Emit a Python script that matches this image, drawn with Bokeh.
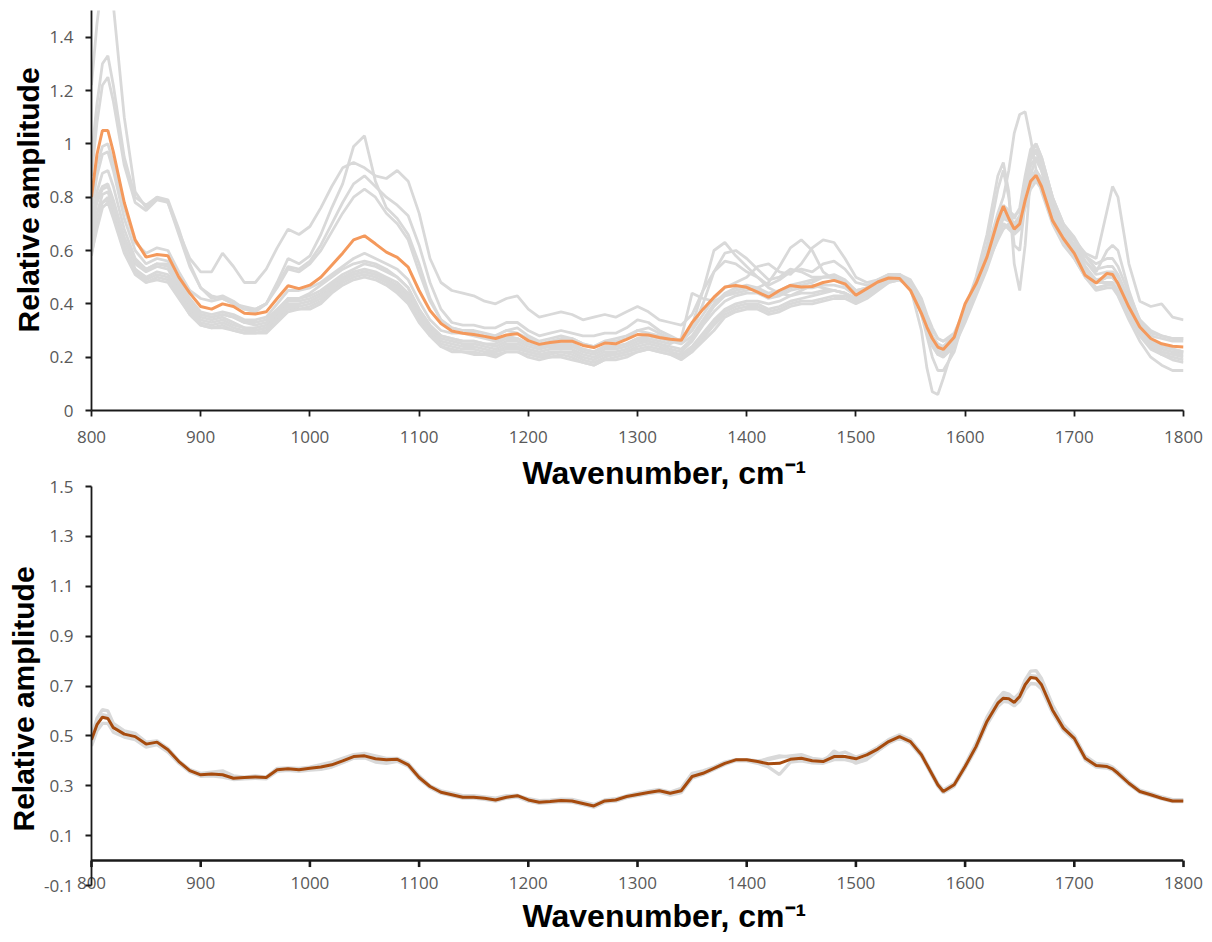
from bokeh.plotting import figure
from bokeh.layouts import column
from bokeh.models import FixedTicker, Title, Span
from bokeh.embed import file_html
from bokeh.resources import INLINE

# ---------------- data ----------------
WAVENUMBER = [
    800, 805, 810, 815, 820, 830, 840, 850, 860, 870, 880, 890,
    900, 910, 920, 930, 940, 950, 960, 970, 980, 990, 1000, 1010, 1020, 1030, 1040, 1050, 1060, 1070, 1080, 1090,
    1100, 1110, 1120, 1130, 1140, 1150, 1160, 1170, 1180, 1190, 1200, 1210, 1220, 1230, 1240, 1250, 1260, 1270, 1280, 1290,
    1300, 1310, 1320, 1330, 1340, 1350, 1360, 1370, 1380, 1390, 1400, 1410, 1420, 1430, 1440, 1450, 1460, 1470, 1480, 1490,
    1500, 1510, 1520, 1530, 1540, 1550, 1560, 1565, 1570, 1575, 1580, 1590,
    1600, 1610, 1620, 1630, 1635, 1640, 1645, 1650, 1655, 1660, 1665, 1670,
    1680, 1690, 1700, 1710, 1720, 1730, 1735, 1740, 1750, 1760, 1770, 1780, 1790, 1800,
]

TOP_MEAN = [
    0.80, 0.96, 1.05, 1.05, 0.97, 0.78, 0.64, 0.575, 0.585, 0.58, 0.50, 0.44,
    0.39, 0.38, 0.40, 0.39, 0.365, 0.362, 0.37, 0.42, 0.468, 0.457, 0.47, 0.50, 0.545, 0.59, 0.64, 0.655, 0.625, 0.594, 0.574, 0.538,
    0.45, 0.375, 0.326, 0.298, 0.29, 0.285, 0.278, 0.27, 0.283, 0.288, 0.262, 0.248, 0.255, 0.26, 0.26, 0.244, 0.236, 0.253, 0.25, 0.267,
    0.285, 0.283, 0.274, 0.267, 0.263, 0.33, 0.38, 0.425, 0.463, 0.469, 0.462, 0.444, 0.425, 0.45, 0.469, 0.463, 0.465, 0.48, 0.488, 0.475,
    0.432, 0.457, 0.482, 0.497, 0.495, 0.45, 0.364, 0.313, 0.27, 0.238, 0.229, 0.275,
    0.40, 0.476, 0.575, 0.713, 0.766, 0.72, 0.68, 0.70, 0.788, 0.86, 0.882, 0.84,
    0.713, 0.645, 0.589, 0.507, 0.478, 0.514, 0.51, 0.476, 0.388, 0.313, 0.27, 0.25, 0.241, 0.238,
]

TOP_SAMPLE_01 = [
    1.22, 1.45, 1.62, 1.66, 1.52, 1.10, 0.82, 0.76, 0.80, 0.78, 0.67, 0.57,
    0.52, 0.52, 0.59, 0.54, 0.48, 0.48, 0.53, 0.61, 0.68, 0.66, 0.69, 0.76, 0.84, 0.91, 0.93, 0.91, 0.88, 0.87, 0.90, 0.86,
    0.74, 0.57, 0.48, 0.45, 0.44, 0.43, 0.41, 0.40, 0.42, 0.43, 0.38, 0.35, 0.36, 0.37, 0.36, 0.34, 0.35, 0.36, 0.35, 0.37,
    0.39, 0.37, 0.34, 0.33, 0.32, 0.36, 0.45, 0.52, 0.56, 0.55, 0.52, 0.50, 0.47, 0.49, 0.52, 0.53, 0.52, 0.55, 0.56, 0.53,
    0.48, 0.47, 0.48, 0.49, 0.49, 0.47, 0.40, 0.35, 0.30, 0.27, 0.26, 0.29,
    0.38, 0.47, 0.55, 0.64, 0.68, 0.70, 0.69, 0.70, 0.76, 0.83, 0.86, 0.83,
    0.74, 0.68, 0.64, 0.59, 0.57, 0.75, 0.84, 0.80, 0.55, 0.41, 0.39, 0.40, 0.35, 0.34,
]
TOP_SAMPLE_02 = [
    0.95, 1.15, 1.30, 1.33, 1.22, 0.95, 0.80, 0.77, 0.80, 0.79, 0.68, 0.55,
    0.46, 0.42, 0.43, 0.41, 0.38, 0.37, 0.40, 0.48, 0.57, 0.55, 0.58, 0.66, 0.76, 0.85, 0.99, 1.03, 0.86, 0.76, 0.72, 0.66,
    0.55, 0.42, 0.34, 0.31, 0.30, 0.30, 0.29, 0.28, 0.30, 0.31, 0.28, 0.26, 0.27, 0.28, 0.27, 0.25, 0.24, 0.26, 0.27, 0.28,
    0.30, 0.31, 0.29, 0.27, 0.26, 0.32, 0.45, 0.60, 0.63, 0.58, 0.54, 0.50, 0.46, 0.44, 0.43, 0.45, 0.47, 0.46, 0.45, 0.44,
    0.42, 0.44, 0.47, 0.49, 0.50, 0.46, 0.30, 0.16, 0.07, 0.06, 0.12, 0.25,
    0.38, 0.50, 0.66, 0.88, 0.93, 0.82, 0.55, 0.45, 0.62, 0.88, 0.95, 0.90,
    0.76, 0.66, 0.60, 0.54, 0.48, 0.50, 0.50, 0.47, 0.38, 0.30, 0.26, 0.24, 0.23, 0.22,
]
TOP_SAMPLE_03 = [
    0.88, 1.08, 1.22, 1.25, 1.16, 0.92, 0.78, 0.75, 0.79, 0.78, 0.66, 0.54,
    0.46, 0.43, 0.42, 0.40, 0.38, 0.38, 0.40, 0.47, 0.54, 0.53, 0.56, 0.62, 0.70, 0.78, 0.85, 0.88, 0.84, 0.80, 0.77, 0.73,
    0.62, 0.48, 0.38, 0.33, 0.32, 0.32, 0.31, 0.31, 0.33, 0.33, 0.30, 0.28, 0.29, 0.30, 0.29, 0.28, 0.28, 0.29, 0.29, 0.31,
    0.34, 0.33, 0.30, 0.28, 0.26, 0.30, 0.40, 0.52, 0.59, 0.60, 0.57, 0.53, 0.49, 0.50, 0.53, 0.52, 0.50, 0.50, 0.50, 0.48,
    0.44, 0.45, 0.48, 0.50, 0.50, 0.47, 0.36, 0.28, 0.20, 0.15, 0.15, 0.22,
    0.36, 0.48, 0.62, 0.83, 0.90, 0.80, 0.62, 0.60, 0.78, 0.96, 1.00, 0.95,
    0.80, 0.68, 0.62, 0.56, 0.52, 0.60, 0.62, 0.60, 0.45, 0.33, 0.28, 0.27, 0.26, 0.26,
]
TOP_SAMPLE_04 = [
    0.80, 0.92, 0.99, 1.00, 0.93, 0.76, 0.63, 0.59, 0.61, 0.60, 0.52, 0.45,
    0.42, 0.41, 0.42, 0.40, 0.39, 0.38, 0.40, 0.46, 0.53, 0.52, 0.55, 0.60, 0.67, 0.74, 0.80, 0.83, 0.80, 0.74, 0.70, 0.64,
    0.52, 0.41, 0.34, 0.31, 0.30, 0.29, 0.28, 0.28, 0.30, 0.29, 0.27, 0.25, 0.26, 0.27, 0.27, 0.25, 0.24, 0.26, 0.26, 0.27,
    0.30, 0.29, 0.28, 0.27, 0.26, 0.30, 0.36, 0.42, 0.46, 0.48, 0.50, 0.54, 0.55, 0.52, 0.51, 0.55, 0.61, 0.64, 0.63, 0.57,
    0.50, 0.48, 0.49, 0.50, 0.51, 0.49, 0.42, 0.36, 0.31, 0.27, 0.26, 0.28,
    0.38, 0.48, 0.58, 0.70, 0.75, 0.73, 0.70, 0.72, 0.82, 0.92, 0.95, 0.91,
    0.78, 0.68, 0.64, 0.58, 0.55, 0.57, 0.57, 0.54, 0.44, 0.34, 0.29, 0.28, 0.27, 0.27,
]
TOP_SAMPLE_05 = [
    0.75, 0.88, 0.96, 0.97, 0.90, 0.72, 0.60, 0.55, 0.57, 0.56, 0.49, 0.42,
    0.37, 0.36, 0.37, 0.36, 0.34, 0.34, 0.35, 0.40, 0.45, 0.45, 0.46, 0.48, 0.51, 0.54, 0.57, 0.59, 0.57, 0.55, 0.53, 0.49,
    0.41, 0.34, 0.30, 0.29, 0.29, 0.28, 0.27, 0.26, 0.28, 0.27, 0.25, 0.24, 0.25, 0.25, 0.25, 0.23, 0.22, 0.24, 0.24, 0.25,
    0.27, 0.27, 0.26, 0.25, 0.27, 0.44, 0.42, 0.41, 0.43, 0.44, 0.45, 0.46, 0.48, 0.54, 0.61, 0.64, 0.60, 0.52, 0.49, 0.47,
    0.44, 0.45, 0.48, 0.50, 0.50, 0.47, 0.38, 0.32, 0.26, 0.22, 0.21, 0.25,
    0.37, 0.47, 0.57, 0.69, 0.74, 0.72, 0.69, 0.70, 0.78, 0.87, 0.90, 0.87,
    0.74, 0.65, 0.60, 0.52, 0.48, 0.50, 0.50, 0.48, 0.40, 0.31, 0.25, 0.23, 0.22, 0.22,
]
TOP_SAMPLE_06 = [
    0.70, 0.82, 0.89, 0.90, 0.84, 0.68, 0.57, 0.53, 0.55, 0.55, 0.48, 0.41,
    0.36, 0.35, 0.36, 0.35, 0.33, 0.33, 0.34, 0.38, 0.42, 0.42, 0.43, 0.45, 0.48, 0.51, 0.53, 0.55, 0.54, 0.52, 0.50, 0.46,
    0.38, 0.32, 0.28, 0.27, 0.26, 0.26, 0.25, 0.24, 0.26, 0.26, 0.24, 0.23, 0.24, 0.24, 0.24, 0.22, 0.21, 0.23, 0.23, 0.24,
    0.26, 0.26, 0.25, 0.24, 0.23, 0.27, 0.33, 0.39, 0.43, 0.45, 0.46, 0.45, 0.43, 0.44, 0.46, 0.47, 0.48, 0.50, 0.51, 0.49,
    0.45, 0.46, 0.49, 0.51, 0.51, 0.48, 0.39, 0.33, 0.27, 0.24, 0.24, 0.28,
    0.38, 0.48, 0.60, 0.74, 0.80, 0.90, 1.04, 1.11, 1.12, 1.02, 0.90, 0.82,
    0.70, 0.62, 0.57, 0.50, 0.46, 0.47, 0.47, 0.45, 0.37, 0.29, 0.24, 0.22, 0.21, 0.21,
]
TOP_SAMPLE_07 = [
    0.68, 0.78, 0.83, 0.84, 0.78, 0.64, 0.55, 0.52, 0.54, 0.53, 0.46, 0.39,
    0.35, 0.34, 0.35, 0.33, 0.31, 0.31, 0.32, 0.36, 0.41, 0.41, 0.42, 0.44, 0.47, 0.50, 0.52, 0.53, 0.52, 0.50, 0.48, 0.44,
    0.37, 0.31, 0.27, 0.26, 0.25, 0.25, 0.24, 0.23, 0.25, 0.25, 0.23, 0.22, 0.23, 0.23, 0.23, 0.21, 0.20, 0.22, 0.22, 0.23,
    0.25, 0.26, 0.25, 0.23, 0.22, 0.26, 0.32, 0.37, 0.41, 0.43, 0.44, 0.44, 0.42, 0.43, 0.45, 0.46, 0.46, 0.47, 0.47, 0.46,
    0.43, 0.45, 0.48, 0.50, 0.50, 0.47, 0.38, 0.32, 0.26, 0.22, 0.22, 0.27,
    0.37, 0.47, 0.58, 0.70, 0.75, 0.74, 0.72, 0.76, 0.88, 0.98, 1.00, 0.95,
    0.80, 0.70, 0.64, 0.56, 0.51, 0.52, 0.52, 0.50, 0.41, 0.32, 0.26, 0.24, 0.23, 0.22,
]
TOP_SAMPLE_08 = [
    0.62, 0.74, 0.81, 0.82, 0.76, 0.62, 0.53, 0.50, 0.52, 0.51, 0.45, 0.38,
    0.34, 0.33, 0.34, 0.32, 0.31, 0.30, 0.31, 0.35, 0.40, 0.40, 0.41, 0.43, 0.46, 0.49, 0.51, 0.52, 0.51, 0.49, 0.47, 0.43,
    0.36, 0.30, 0.26, 0.25, 0.24, 0.24, 0.23, 0.22, 0.24, 0.24, 0.22, 0.21, 0.22, 0.22, 0.22, 0.20, 0.19, 0.21, 0.21, 0.22,
    0.24, 0.25, 0.24, 0.22, 0.21, 0.24, 0.29, 0.34, 0.38, 0.40, 0.41, 0.41, 0.40, 0.41, 0.43, 0.44, 0.44, 0.45, 0.45, 0.44,
    0.42, 0.44, 0.47, 0.49, 0.49, 0.46, 0.36, 0.30, 0.24, 0.21, 0.21, 0.26,
    0.36, 0.46, 0.56, 0.68, 0.73, 0.72, 0.70, 0.73, 0.84, 0.94, 0.97, 0.92,
    0.78, 0.68, 0.62, 0.54, 0.49, 0.50, 0.50, 0.47, 0.38, 0.30, 0.24, 0.21, 0.19, 0.18,
]
TOP_SAMPLE_09 = [
    0.58, 0.70, 0.78, 0.80, 0.74, 0.60, 0.52, 0.48, 0.50, 0.49, 0.43, 0.36,
    0.32, 0.31, 0.32, 0.30, 0.29, 0.29, 0.30, 0.34, 0.38, 0.38, 0.39, 0.41, 0.45, 0.48, 0.50, 0.51, 0.50, 0.48, 0.45, 0.41,
    0.34, 0.28, 0.24, 0.23, 0.22, 0.22, 0.21, 0.21, 0.22, 0.22, 0.21, 0.20, 0.20, 0.21, 0.20, 0.18, 0.17, 0.19, 0.20, 0.21,
    0.22, 0.23, 0.22, 0.21, 0.19, 0.22, 0.27, 0.32, 0.36, 0.38, 0.39, 0.39, 0.37, 0.38, 0.40, 0.41, 0.41, 0.42, 0.43, 0.43,
    0.41, 0.43, 0.46, 0.48, 0.49, 0.46, 0.37, 0.31, 0.25, 0.21, 0.20, 0.24,
    0.33, 0.43, 0.53, 0.65, 0.70, 0.69, 0.67, 0.69, 0.78, 0.87, 0.90, 0.86,
    0.72, 0.63, 0.57, 0.50, 0.45, 0.46, 0.46, 0.43, 0.34, 0.26, 0.20, 0.17, 0.15, 0.15,
]
TOP_SAMPLE_10 = [
    0.66, 0.74, 0.78, 0.79, 0.73, 0.61, 0.53, 0.49, 0.51, 0.50, 0.44, 0.37,
    0.33, 0.32, 0.33, 0.31, 0.30, 0.30, 0.31, 0.35, 0.39, 0.39, 0.40, 0.42, 0.46, 0.49, 0.51, 0.52, 0.51, 0.49, 0.46, 0.42,
    0.35, 0.29, 0.25, 0.24, 0.23, 0.23, 0.22, 0.22, 0.23, 0.23, 0.22, 0.21, 0.21, 0.22, 0.21, 0.19, 0.18, 0.20, 0.21, 0.22,
    0.23, 0.24, 0.23, 0.22, 0.20, 0.23, 0.28, 0.33, 0.37, 0.39, 0.40, 0.40, 0.38, 0.39, 0.41, 0.42, 0.43, 0.44, 0.45, 0.44,
    0.42, 0.44, 0.47, 0.49, 0.50, 0.47, 0.38, 0.32, 0.26, 0.22, 0.22, 0.26,
    0.35, 0.45, 0.55, 0.66, 0.70, 0.68, 0.66, 0.68, 0.77, 0.85, 0.87, 0.84,
    0.72, 0.64, 0.58, 0.51, 0.46, 0.47, 0.47, 0.44, 0.36, 0.28, 0.23, 0.21, 0.20, 0.19,
]
TOP_SAMPLE_11 = [
    0.59, 0.68, 0.76, 0.78, 0.72, 0.59, 0.51, 0.48, 0.49, 0.48, 0.42, 0.36,
    0.32, 0.31, 0.31, 0.30, 0.29, 0.29, 0.29, 0.33, 0.37, 0.38, 0.38, 0.40, 0.44, 0.47, 0.49, 0.50, 0.49, 0.47, 0.44, 0.40,
    0.33, 0.28, 0.24, 0.22, 0.22, 0.21, 0.21, 0.20, 0.22, 0.22, 0.20, 0.19, 0.20, 0.20, 0.19, 0.18, 0.17, 0.19, 0.19, 0.20,
    0.22, 0.23, 0.22, 0.21, 0.20, 0.22, 0.26, 0.30, 0.35, 0.37, 0.38, 0.38, 0.36, 0.37, 0.39, 0.40, 0.40, 0.41, 0.42, 0.42,
    0.40, 0.42, 0.45, 0.48, 0.49, 0.47, 0.38, 0.32, 0.26, 0.23, 0.23, 0.27,
    0.36, 0.46, 0.56, 0.67, 0.72, 0.71, 0.69, 0.72, 0.82, 0.92, 0.94, 0.90,
    0.76, 0.67, 0.61, 0.53, 0.48, 0.48, 0.48, 0.45, 0.37, 0.29, 0.24, 0.22, 0.21, 0.20,
]
TOP_SAMPLE_12 = [
    0.72, 0.80, 0.84, 0.85, 0.79, 0.65, 0.56, 0.53, 0.55, 0.54, 0.47, 0.40,
    0.36, 0.35, 0.36, 0.35, 0.33, 0.32, 0.33, 0.37, 0.42, 0.42, 0.44, 0.47, 0.50, 0.53, 0.55, 0.56, 0.55, 0.53, 0.50, 0.46,
    0.38, 0.32, 0.28, 0.27, 0.26, 0.26, 0.25, 0.25, 0.27, 0.27, 0.25, 0.24, 0.24, 0.25, 0.25, 0.23, 0.22, 0.24, 0.24, 0.25,
    0.27, 0.28, 0.27, 0.26, 0.25, 0.28, 0.34, 0.40, 0.44, 0.46, 0.47, 0.46, 0.44, 0.45, 0.47, 0.48, 0.49, 0.50, 0.50, 0.48,
    0.45, 0.46, 0.49, 0.51, 0.51, 0.48, 0.40, 0.34, 0.28, 0.25, 0.24, 0.28,
    0.38, 0.48, 0.58, 0.71, 0.77, 0.75, 0.73, 0.75, 0.85, 0.95, 0.98, 0.94,
    0.80, 0.70, 0.65, 0.58, 0.53, 0.54, 0.54, 0.51, 0.42, 0.34, 0.30, 0.28, 0.27, 0.27,
]
TOP_SAMPLES = [TOP_SAMPLE_01, TOP_SAMPLE_02, TOP_SAMPLE_03, TOP_SAMPLE_04, TOP_SAMPLE_05, TOP_SAMPLE_06,
               TOP_SAMPLE_07, TOP_SAMPLE_08, TOP_SAMPLE_09, TOP_SAMPLE_10, TOP_SAMPLE_11, TOP_SAMPLE_12]

BOTTOM_MEAN = [
    0.484, 0.545, 0.575, 0.57, 0.533, 0.507, 0.497, 0.467, 0.475, 0.444, 0.397, 0.361,
    0.344, 0.347, 0.344, 0.33, 0.333, 0.335, 0.333, 0.364, 0.368, 0.364, 0.37, 0.375, 0.384, 0.40, 0.417, 0.42, 0.408, 0.404, 0.406, 0.384,
    0.333, 0.297, 0.274, 0.264, 0.254, 0.254, 0.25, 0.243, 0.254, 0.26, 0.243, 0.234, 0.237, 0.241, 0.239, 0.229, 0.219, 0.239, 0.243, 0.257,
    0.265, 0.273, 0.28, 0.27, 0.28, 0.337, 0.35, 0.37, 0.39, 0.404, 0.404, 0.397, 0.388, 0.39, 0.406, 0.41, 0.40, 0.397, 0.417, 0.417,
    0.408, 0.424, 0.447, 0.477, 0.497, 0.477, 0.424, 0.384, 0.344, 0.304, 0.277, 0.304,
    0.377, 0.457, 0.558, 0.631, 0.651, 0.649, 0.634, 0.658, 0.705, 0.734, 0.731, 0.705,
    0.604, 0.531, 0.49, 0.41, 0.381, 0.377, 0.368, 0.35, 0.31, 0.277, 0.264, 0.25, 0.239, 0.239,
]
BOTTOM_SAMPLE_01 = [
    0.50, 0.57, 0.605, 0.60, 0.55, 0.52, 0.51, 0.475, 0.48, 0.45, 0.40, 0.365,
    0.35, 0.355, 0.36, 0.34, 0.335, 0.34, 0.335, 0.37, 0.372, 0.37, 0.375, 0.385, 0.395, 0.41, 0.425, 0.43, 0.42, 0.41, 0.41, 0.39,
    0.34, 0.30, 0.28, 0.27, 0.26, 0.26, 0.255, 0.25, 0.26, 0.262, 0.248, 0.24, 0.242, 0.246, 0.245, 0.235, 0.225, 0.243, 0.248, 0.26,
    0.27, 0.278, 0.285, 0.275, 0.29, 0.35, 0.36, 0.375, 0.395, 0.405, 0.405, 0.40, 0.405, 0.415, 0.42, 0.425, 0.41, 0.405, 0.425, 0.435,
    0.415, 0.43, 0.455, 0.485, 0.505, 0.485, 0.43, 0.39, 0.35, 0.31, 0.283, 0.31,
    0.385, 0.47, 0.575, 0.65, 0.675, 0.668, 0.65, 0.672, 0.725, 0.76, 0.762, 0.73,
    0.625, 0.545, 0.50, 0.42, 0.39, 0.385, 0.375, 0.357, 0.316, 0.283, 0.27, 0.255, 0.244, 0.244,
]
BOTTOM_SAMPLE_02 = [
    0.46, 0.52, 0.55, 0.55, 0.515, 0.495, 0.485, 0.455, 0.465, 0.435, 0.39, 0.355,
    0.338, 0.34, 0.335, 0.325, 0.328, 0.33, 0.328, 0.358, 0.362, 0.358, 0.363, 0.366, 0.375, 0.392, 0.41, 0.412, 0.395, 0.39, 0.398, 0.378,
    0.327, 0.292, 0.27, 0.26, 0.25, 0.25, 0.245, 0.238, 0.25, 0.255, 0.238, 0.229, 0.232, 0.236, 0.234, 0.224, 0.214, 0.234, 0.238, 0.252,
    0.26, 0.268, 0.274, 0.262, 0.272, 0.33, 0.345, 0.365, 0.385, 0.40, 0.40, 0.39, 0.375, 0.345, 0.395, 0.40, 0.392, 0.39, 0.405, 0.405,
    0.395, 0.41, 0.44, 0.47, 0.49, 0.47, 0.418, 0.378, 0.338, 0.298, 0.272, 0.298,
    0.37, 0.448, 0.545, 0.618, 0.638, 0.635, 0.62, 0.64, 0.685, 0.71, 0.708, 0.688,
    0.592, 0.522, 0.482, 0.403, 0.375, 0.371, 0.362, 0.344, 0.305, 0.273, 0.26, 0.247, 0.236, 0.236,
]
BOTTOM_SAMPLE_03 = [
    0.47, 0.535, 0.585, 0.58, 0.54, 0.512, 0.50, 0.462, 0.472, 0.44, 0.393, 0.358,
    0.342, 0.345, 0.35, 0.332, 0.33, 0.332, 0.33, 0.362, 0.366, 0.362, 0.368, 0.372, 0.38, 0.398, 0.42, 0.425, 0.40, 0.395, 0.402, 0.38,
    0.33, 0.295, 0.272, 0.262, 0.252, 0.252, 0.248, 0.24, 0.252, 0.258, 0.24, 0.232, 0.235, 0.238, 0.236, 0.226, 0.216, 0.236, 0.24, 0.255,
    0.262, 0.27, 0.277, 0.268, 0.276, 0.345, 0.355, 0.372, 0.392, 0.405, 0.402, 0.395, 0.41, 0.42, 0.415, 0.412, 0.396, 0.394, 0.44, 0.415,
    0.39, 0.405, 0.44, 0.475, 0.495, 0.475, 0.422, 0.382, 0.342, 0.302, 0.275, 0.302,
    0.374, 0.455, 0.556, 0.636, 0.665, 0.66, 0.642, 0.662, 0.71, 0.742, 0.74, 0.712,
    0.61, 0.535, 0.492, 0.412, 0.383, 0.379, 0.37, 0.352, 0.312, 0.279, 0.266, 0.252, 0.241, 0.241,
]
BOTTOM_SAMPLES = [BOTTOM_SAMPLE_01, BOTTOM_SAMPLE_02, BOTTOM_SAMPLE_03]

X_TICKS = [800, 900, 1000, 1100, 1200, 1300, 1400, 1500, 1600, 1700, 1800]
TOP_Y_TICKS = [0, 0.2, 0.4, 0.6, 0.8, 1.0, 1.2, 1.4]
TOP_Y_LABELS = ["0", "0.2", "0.4", "0.6", "0.8", "1", "1.2", "1.4"]
BOTTOM_Y_TICKS = [-0.1, 0.1, 0.3, 0.5, 0.7, 0.9, 1.1, 1.3, 1.5]
BOTTOM_Y_LABELS = ["-0.1", "0.1", "0.3", "0.5", "0.7", "0.9", "1.1", "1.3", "1.5"]
X_TITLE = "Wavenumber, cm\u207b\u00b9"
Y_TITLE = "Relative amplitude"

for s in [TOP_MEAN, BOTTOM_MEAN] + TOP_SAMPLES + BOTTOM_SAMPLES:
    assert len(s) == len(WAVENUMBER), len(s)

# ---------------- styling / layout ----------------
GRAY = "#d9d9d9"
ORANGE = "#f4995c"
BROWN = "#a64b0e"
AXIS_COLOR = "#1a1a1a"
AXIS_WIDTH = 1.8
ZERO_LINE_WIDTH = 2.6
TICK_FONT = "Open Sans"
TITLE_FONT = "Liberation Sans"
X_TITLE_OFFSET = 431           # px from the frame's left edge to the x titles
TICK_LEN = 0.026               # ~6 px in bottom-chart units


def style(p, yticks, ylabels, y_title_offset):
    p.xgrid.visible = False
    p.ygrid.visible = False
    p.outline_line_color = None
    p.background_fill_color = "white"
    p.border_fill_color = "white"
    p.xaxis.ticker = FixedTicker(ticks=X_TICKS)
    p.yaxis.ticker = FixedTicker(ticks=yticks)
    p.yaxis.major_label_overrides = dict(zip(yticks, ylabels))
    for ax in (p.xaxis[0], p.yaxis[0]):
        ax.axis_line_color = AXIS_COLOR
        ax.axis_line_width = AXIS_WIDTH
        ax.major_tick_line_color = AXIS_COLOR
        ax.major_tick_line_width = AXIS_WIDTH
        ax.major_tick_in = 0
        ax.major_tick_out = 6
        ax.minor_tick_line_color = None
        ax.major_label_text_font = TICK_FONT
        ax.major_label_text_font_size = "17px"
        ax.major_label_text_color = "#595959"
    p.xaxis.major_label_standoff = 14
    p.yaxis.major_label_standoff = 12
    p.add_layout(Title(text=Y_TITLE, align="left", offset=y_title_offset, standoff=3,
                       text_font=TITLE_FONT, text_font_size="30px", text_font_style="bold",
                       text_color="black"), "left")


def x_title(standoff):
    return Title(text=X_TITLE, align="left", offset=X_TITLE_OFFSET, standoff=standoff,
                 text_font=TITLE_FONT, text_font_size="32px", text_font_style="bold",
                 text_color="black")


# ---------------- top chart ----------------
p1 = figure(frame_width=1092, frame_height=400, x_range=(800, 1800), y_range=(0, 1.5),
            output_backend="svg", toolbar_location=None,
            min_border_left=91, min_border_right=29, min_border_top=10, min_border_bottom=46)
style(p1, TOP_Y_TICKS, TOP_Y_LABELS, 78)
for s in TOP_SAMPLES:
    p1.line(WAVENUMBER, s, line_color=GRAY, line_width=2.8)
p1.line(WAVENUMBER, TOP_MEAN, line_color=ORANGE, line_width=3.0)

# ---------------- bottom chart ----------------
p2 = figure(frame_width=1092, frame_height=399, x_range=(800, 1800), y_range=(-0.1, 1.5),
            output_backend="svg", toolbar_location=None,
            min_border_left=91, min_border_right=29, min_border_top=29, min_border_bottom=58)
style(p2, BOTTOM_Y_TICKS, BOTTOM_Y_LABELS, 54)
# x axis crosses at y = 0: draw its line and ticks there, keep the labels of the real axis
p2.xaxis.axis_line_color = None
p2.xaxis.major_tick_line_color = None
p2.xaxis.major_tick_out = 0
p2.xaxis.major_label_standoff = -9
for s in BOTTOM_SAMPLES:
    p2.line(WAVENUMBER, s, line_color=GRAY, line_width=3.3)
p2.line(WAVENUMBER, BOTTOM_MEAN, line_color=BROWN, line_width=3.0)
p2.add_layout(Span(location=0, dimension="width", line_color=AXIS_COLOR, line_width=ZERO_LINE_WIDTH,
                   level="overlay"))
p2.segment(x0=X_TICKS, y0=[0] * len(X_TICKS), x1=X_TICKS, y1=[-TICK_LEN] * len(X_TICKS),
           line_color=AXIS_COLOR, line_width=ZERO_LINE_WIDTH, level="overlay")
# the top chart's x title sits in the gap between the two charts
p2.add_layout(x_title(-8), "above")
p2.add_layout(x_title(8), "below")

layout = column(p1, p2, spacing=0)
open("out.html", "w").write(file_html(layout, INLINE))
